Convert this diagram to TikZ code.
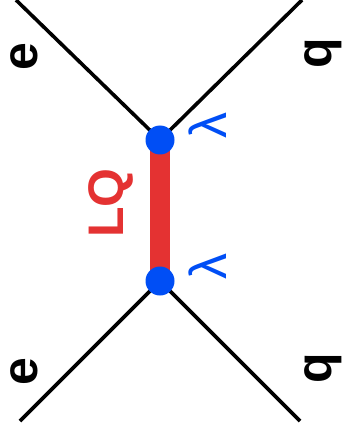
\documentclass[tikz,border=0pt]{standalone}
\usepackage{fontspec}
\setmainfont{Liberation Sans}
\usepackage{tikz}

\definecolor{lqred}{RGB}{228,50,50}
\definecolor{lqblue}{RGB}{0,78,245}

\tikzset{
  fermion/.style={draw=black, line width=1.8pt},
  leptoquark/.style={draw=lqred, line width=10pt},
  coupling/.style={circle, fill=lqblue, inner sep=0pt, minimum size=14.5pt},
  lbl/.style={rotate=90, inner sep=0pt, font=\fontsize{25}{25}\selectfont\bfseries},
  cpl/.style={rotate=90, inner sep=0pt, text=lqblue, font=\fontsize{26}{26}\selectfont},
}

\begin{document}
\begin{tikzpicture}[x=0.5pt, y=-0.5pt, baseline=(current bounding box.center)]
  \useasboundingbox (0,0) rectangle (347,443);
  \coordinate (v1) at (160,140);
  \coordinate (v2) at (160,281);
  \coordinate (i1) at (16,0);
  \coordinate (f1) at (302,0);
  \coordinate (i2) at (20,421);
  \coordinate (f2) at (300,421);
  \draw[fermion] (i1) -- (v1);
  \draw[fermion] (v1) -- (f1);
  \draw[fermion] (i2) -- (v2);
  \draw[fermion] (v2) -- (f2);
  \draw[leptoquark] (v1) -- (v2);
  \node[coupling] (d1) at (v1) {};
  \node[coupling] (d2) at (v2) {};
  \node[lbl] (e1) at (24,57) {e};
  \node[lbl] (q1) at (323,53) {q};
  \node[lbl] (e2) at (24,372) {e};
  \node[lbl] (q2) at (323,368) {q};
  \node[lbl, text=lqred] (lq) at (111,203) {LQ};
  \node[cpl] (l1) at (208,126) {λ};
  \node[cpl] (l2) at (208,266) {λ};
\end{tikzpicture}
\end{document}
